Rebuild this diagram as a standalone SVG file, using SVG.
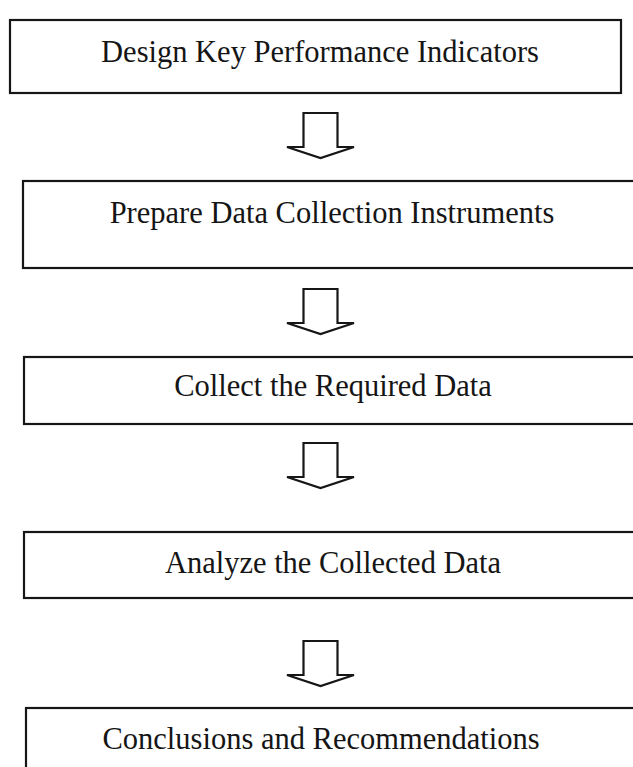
<svg xmlns="http://www.w3.org/2000/svg" width="633" height="767" viewBox="0 0 633 767">
<style>
.box{fill:#fff;stroke:#161616;stroke-width:2.2}
.lbl{font-family:"Liberation Serif","Times New Roman",serif;font-size:30.5px;fill:#151515;text-anchor:middle}
.arr{fill:#fff;stroke:#161616;stroke-width:2.2;stroke-linejoin:miter}
</style>
<defs>
<path id="blk" d="M-17,0 H17 V34 H33.5 L0,45 L-33.5,34 H-17 Z"/>
</defs>
<rect width="633" height="767" fill="#fff"/>
<g id="connectors">
<use href="#blk" class="arr" x="320.5" y="113"/>
<use href="#blk" class="arr" x="320.5" y="289"/>
<use href="#blk" class="arr" x="320.5" y="443"/>
<use href="#blk" class="arr" x="320.5" y="641"/>
</g>
<g id="n1"><rect class="box" x="10" y="20" width="611" height="73"/><text class="lbl" x="320" y="62">Design Key Performance Indicators</text></g>
<g id="n2"><rect class="box" x="23" y="181" width="630" height="87"/><text class="lbl" x="332" y="223">Prepare Data Collection Instruments</text></g>
<g id="n3"><rect class="box" x="24" y="357" width="630" height="67"/><text class="lbl" x="333" y="396">Collect the Required Data</text></g>
<g id="n4"><rect class="box" x="24" y="532" width="630" height="66"/><text class="lbl" x="333" y="573">Analyze the Collected Data</text></g>
<g id="n5"><rect class="box" x="26" y="708" width="630" height="80"/><text class="lbl" x="321" y="749">Conclusions and Recommendations</text></g>
</svg>
